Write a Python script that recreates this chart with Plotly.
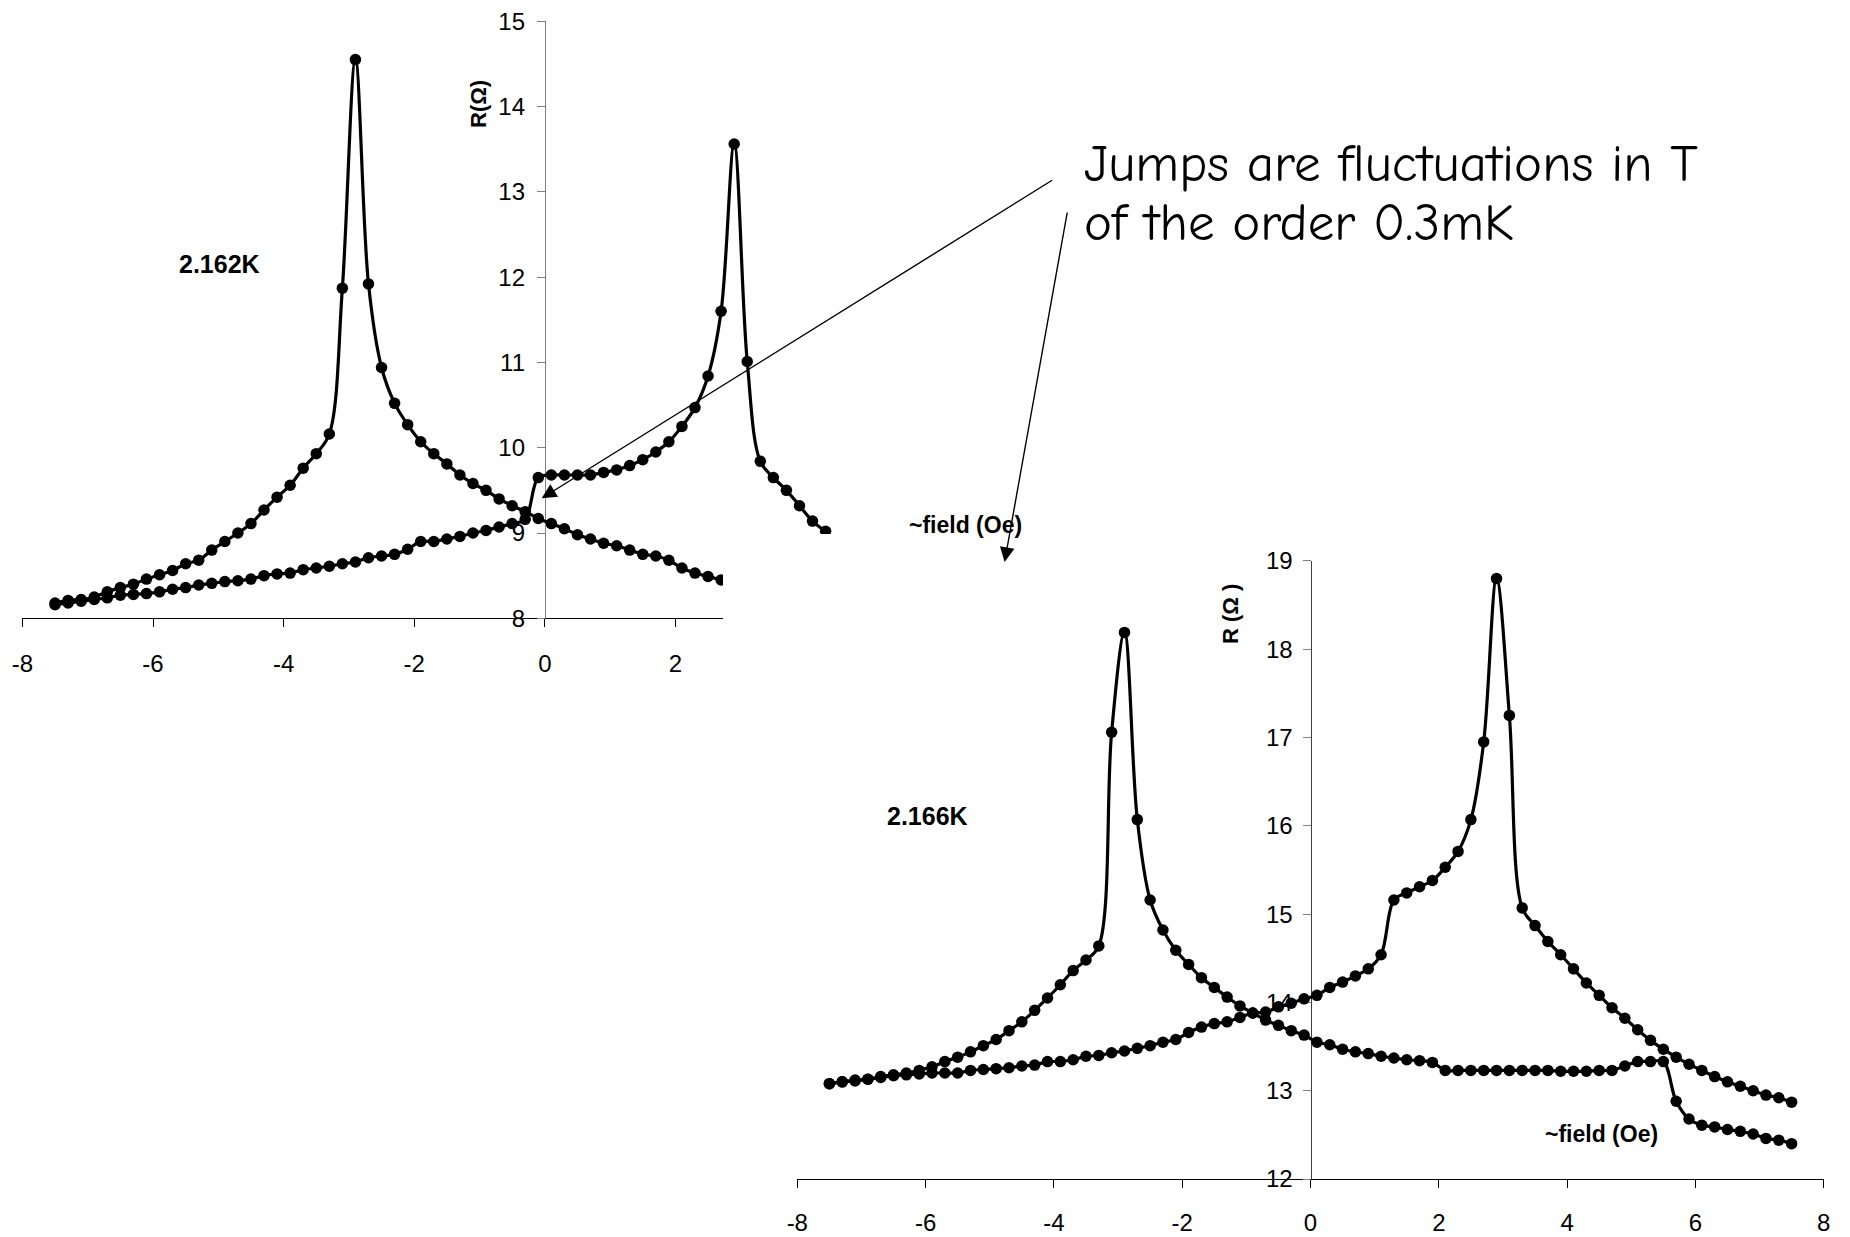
import plotly.graph_objects as go

# ---------------- data: R (ohm) vs field (Oe) ----------------
# 2.162 K, sweep up (peak near +2.9)
field_162_up = [-7.5, -7.3, -7.1, -6.9, -6.7, -6.5, -6.3, -6.1, -5.9, -5.7,
                -5.5, -5.3, -5.1, -4.9, -4.7, -4.5, -4.3, -4.1, -3.9, -3.7,
                -3.5, -3.3, -3.1, -2.9, -2.7, -2.5, -2.3, -2.1, -1.9, -1.7,
                -1.5, -1.3, -1.1, -0.9, -0.7, -0.5, -0.3, -0.1, 0.1, 0.3,
                0.5, 0.7, 0.9, 1.1, 1.3, 1.5, 1.7, 1.9, 2.1, 2.3,
                2.5, 2.7, 2.9, 3.1, 3.3, 3.5, 3.7, 3.9, 4.1, 4.3]
r_162_up = [8.16, 8.18, 8.20, 8.22, 8.24, 8.27, 8.28, 8.29, 8.31, 8.34,
            8.36, 8.39, 8.41, 8.43, 8.44, 8.46, 8.50, 8.52, 8.53, 8.57,
            8.59, 8.61, 8.64, 8.66, 8.71, 8.73, 8.75, 8.81, 8.90, 8.90,
            8.93, 8.96, 9.00, 9.03, 9.07, 9.11, 9.16, 9.65, 9.68, 9.68,
            9.68, 9.68, 9.71, 9.74, 9.79, 9.86, 9.95, 10.07, 10.25, 10.47,
            10.84, 11.60, 13.56, 11.01, 9.84, 9.65, 9.50, 9.32, 9.14, 9.02]

# 2.162 K, sweep down (peak near -2.9)
field_162_down = [-7.5, -7.3, -7.1, -6.9, -6.7, -6.5, -6.3, -6.1, -5.9, -5.7,
                  -5.5, -5.3, -5.1, -4.9, -4.7, -4.5, -4.3, -4.1, -3.9, -3.7,
                  -3.5, -3.3, -3.1, -2.9, -2.7, -2.5, -2.3, -2.1, -1.9, -1.7,
                  -1.5, -1.3, -1.1, -0.9, -0.7, -0.5, -0.3, -0.1, 0.1, 0.3,
                  0.5, 0.7, 0.9, 1.1, 1.3, 1.5, 1.7, 1.9, 2.1, 2.3,
                  2.5, 2.7]
r_162_down = [8.18, 8.21, 8.22, 8.25, 8.31, 8.36, 8.40, 8.46, 8.51, 8.56,
              8.64, 8.68, 8.80, 8.90, 9.00, 9.11, 9.27, 9.42, 9.56, 9.76,
              9.93, 10.16, 11.87, 14.55, 11.92, 10.94, 10.52, 10.27, 10.07, 9.93,
              9.81, 9.68, 9.58, 9.50, 9.40, 9.32, 9.25, 9.17, 9.11, 9.05,
              8.98, 8.93, 8.88, 8.85, 8.80, 8.75, 8.73, 8.68, 8.59, 8.53,
              8.49, 8.45]

# 2.166 K, full sweep grid
field_166 = [-7.5, -7.3, -7.1, -6.9, -6.7, -6.5, -6.3, -6.1, -5.9, -5.7,
             -5.5, -5.3, -5.1, -4.9, -4.7, -4.5, -4.3, -4.1, -3.9, -3.7,
             -3.5, -3.3, -3.1, -2.9, -2.7, -2.5, -2.3, -2.1, -1.9, -1.7,
             -1.5, -1.3, -1.1, -0.9, -0.7, -0.5, -0.3, -0.1, 0.1, 0.3,
             0.5, 0.7, 0.9, 1.1, 1.3, 1.5, 1.7, 1.9, 2.1, 2.3,
             2.5, 2.7, 2.9, 3.1, 3.3, 3.5, 3.7, 3.9, 4.1, 4.3,
             4.5, 4.7, 4.9, 5.1, 5.3, 5.5, 5.7, 5.9, 6.1, 6.3,
             6.5, 6.7, 6.9, 7.1, 7.3, 7.5]
r_166_up = [13.08, 13.10, 13.11, 13.13, 13.15, 13.17, 13.18, 13.19, 13.20, 13.20,
            13.20, 13.23, 13.24, 13.25, 13.26, 13.28, 13.29, 13.33, 13.33, 13.35,
            13.39, 13.40, 13.43, 13.45, 13.48, 13.51, 13.55, 13.58, 13.66, 13.72,
            13.76, 13.78, 13.83, 13.88, 13.89, 13.95, 13.99, 14.04, 14.08, 14.17,
            14.23, 14.30, 14.38, 14.54, 15.16, 15.24, 15.31, 15.38, 15.53, 15.71,
            16.07, 16.95, 18.80, 17.25, 15.07, 14.87, 14.69, 14.54, 14.38, 14.22,
            14.08, 13.94, 13.82, 13.69, 13.57, 13.47, 13.38, 13.30, 13.23, 13.16,
            13.10, 13.05, 13.00, 12.95, 12.92, 12.87]
r_166_down = [13.08, 13.10, 13.12, 13.13, 13.16, 13.18, 13.20, 13.23, 13.27, 13.33,
              13.38, 13.44, 13.51, 13.58, 13.68, 13.78, 13.91, 14.05, 14.20, 14.36,
              14.48, 14.64, 17.06, 18.19, 16.07, 15.16, 14.82, 14.59, 14.43, 14.28,
              14.17, 14.06, 13.96, 13.88, 13.80, 13.74, 13.68, 13.63, 13.55, 13.52,
              13.47, 13.44, 13.42, 13.39, 13.37, 13.35, 13.34, 13.32, 13.23, 13.23,
              13.23, 13.23, 13.23, 13.23, 13.23, 13.23, 13.23, 13.22, 13.22, 13.22,
              13.23, 13.23, 13.28, 13.33, 13.33, 13.33, 12.88, 12.68, 12.61, 12.59,
              12.56, 12.54, 12.51, 12.46, 12.44, 12.40]

x_ticks = [-8, -6, -4, -2, 0, 2, 4, 6, 8]
x_tick_text = ["-8", "-6", "-4", "-2", "0", "2", "4", "6", "8"]
y_ticks_162 = [8, 9, 10, 11, 12, 13, 14, 15]
y_ticks_166 = [12, 13, 14, 15, 16, 17, 18, 19]

# ---------------- page geometry (pixels) ----------------
W, H = 1850, 1237


def fx(px):
    return px / W


def fy(py):
    return 1 - py / H


SANS = "Liberation Sans, Arial, sans-serif"
TICK_FONT = dict(family=SANS, size=24, color="black")

fig = go.Figure()


def series(x, y, xa, ya):
    return go.Scatter(
        x=x, y=y, xaxis=xa, yaxis=ya, mode="lines+markers",
        line=dict(color="black", width=3.2, shape="spline", smoothing=1.0),
        marker=dict(color="black", size=11.5, symbol="circle"),
        showlegend=False, hoverinfo="x+y",
    )


# upper-left panel (2.162 K)
fig.add_trace(series(field_162_up, r_162_up, "x", "y"))
fig.add_trace(series(field_162_down, r_162_down, "x", "y"))

# opaque backing of the lower-right panel, drawn over the upper panel
fig.add_trace(go.Scatter(
    x=[0, 1, 1, 0, 0], y=[0, 0, 1, 1, 0], xaxis="x2", yaxis="y2",
    mode="lines", fill="toself", fillcolor="white",
    line=dict(width=0, color="white"), showlegend=False, hoverinfo="skip",
))

# lower-right panel (2.166 K)
fig.add_trace(series(field_166, r_166_up, "x3", "y3"))
fig.add_trace(series(field_166, r_166_down, "x3", "y3"))

axis_common = dict(
    showgrid=False, zeroline=False, ticks="outside", ticklen=8,
    tickwidth=1, tickfont=TICK_FONT, layer="below traces", automargin=False,
)

fig.update_layout(
    width=W, height=H,
    margin=dict(l=0, r=0, t=0, b=0, autoexpand=False),
    paper_bgcolor="white", plot_bgcolor="rgba(0,0,0,0)",
    xaxis=dict(
        domain=[fx(22.4), fx(1067.2)], range=[-8, 8], anchor="y",
        tickvals=x_ticks, ticktext=x_tick_text, showline=True,
        linecolor="black", linewidth=1.2, tickcolor="black",
        ticklabelstandoff=16, **axis_common,
    ),
    yaxis=dict(
        domain=[fy(618.3), fy(21.2)], range=[8, 15], anchor="free",
        position=fx(544.8), tickvals=y_ticks_162, showline=True,
        linecolor="#808080", linewidth=1, tickcolor="#808080",
        ticklabelstandoff=7, **axis_common,
    ),
    xaxis2=dict(domain=[fx(723), 1.0], range=[0, 1], visible=False,
                fixedrange=True, anchor="y2", automargin=False),
    yaxis2=dict(domain=[0.0, fy(534)], range=[0, 1], visible=False,
                fixedrange=True, anchor="x2", automargin=False),
    xaxis3=dict(
        domain=[fx(797.3), fx(1823.7)], range=[-8, 8], anchor="y3",
        tickvals=x_ticks, ticktext=x_tick_text, showline=True,
        linecolor="black", linewidth=1.2, tickcolor="black",
        ticklabelstandoff=14, **axis_common,
    ),
    yaxis3=dict(
        domain=[fy(1179), fy(560.9)], range=[12, 19], anchor="free",
        position=fx(1310.5), tickvals=y_ticks_166, showline=True,
        linecolor="#404040", linewidth=1, tickcolor="#808080",
        ticklabelstandoff=5, **axis_common,
    ),
)

texts = [
    ("2.162K", 219, 264, 0, 25),
    ("2.166K", 927, 816, 0, 25),
    ("R(Ω)", 478, 104, -90, 22),
    ("R (Ω )", 1230, 614, -90, 22),
    ("~field (Oe)", 965, 525, 0, 23),
    ("~field (Oe)", 1601, 1134, 0, 23),
]
for txt, px, py, ang, sz in texts:
    fig.add_annotation(
        text=txt, x=fx(px), y=fy(py), xref="paper", yref="paper",
        showarrow=False, textangle=ang, xanchor="center", yanchor="middle",
        font=dict(family=SANS, size=sz, color="black", weight="bold"),
    )

# note with two arrows
note_lines = [("Jumps are fluctuations in T", 164), ("of the order 0.3mK", 222)]
for line, py in note_lines:
    fig.add_annotation(
        text=line, x=fx(1082), y=fy(py), xref="paper", yref="paper",
        xanchor="left", yanchor="middle", align="left", showarrow=False,
        font=dict(family="Comic Sans MS, Comic Neue, Lato, sans-serif",
                  size=53, color="black"),
    )
arrows = [
    ((1053.6, 179.3), (541.7, 498.3)),
    ((1067.5, 211.0), (1004.6, 562.0)),
]
for (sx, sy), (tx, ty) in arrows:
    fig.add_annotation(
        text="", x=fx(tx), y=fy(ty), xref="paper", yref="paper",
        ax=sx - tx, ay=sy - ty, axref="pixel", ayref="pixel",
        showarrow=True, arrowhead=2, arrowsize=2.1, arrowwidth=1.4,
        arrowcolor="black", standoff=0, startstandoff=0,
    )

fig.write_html("out.html")
